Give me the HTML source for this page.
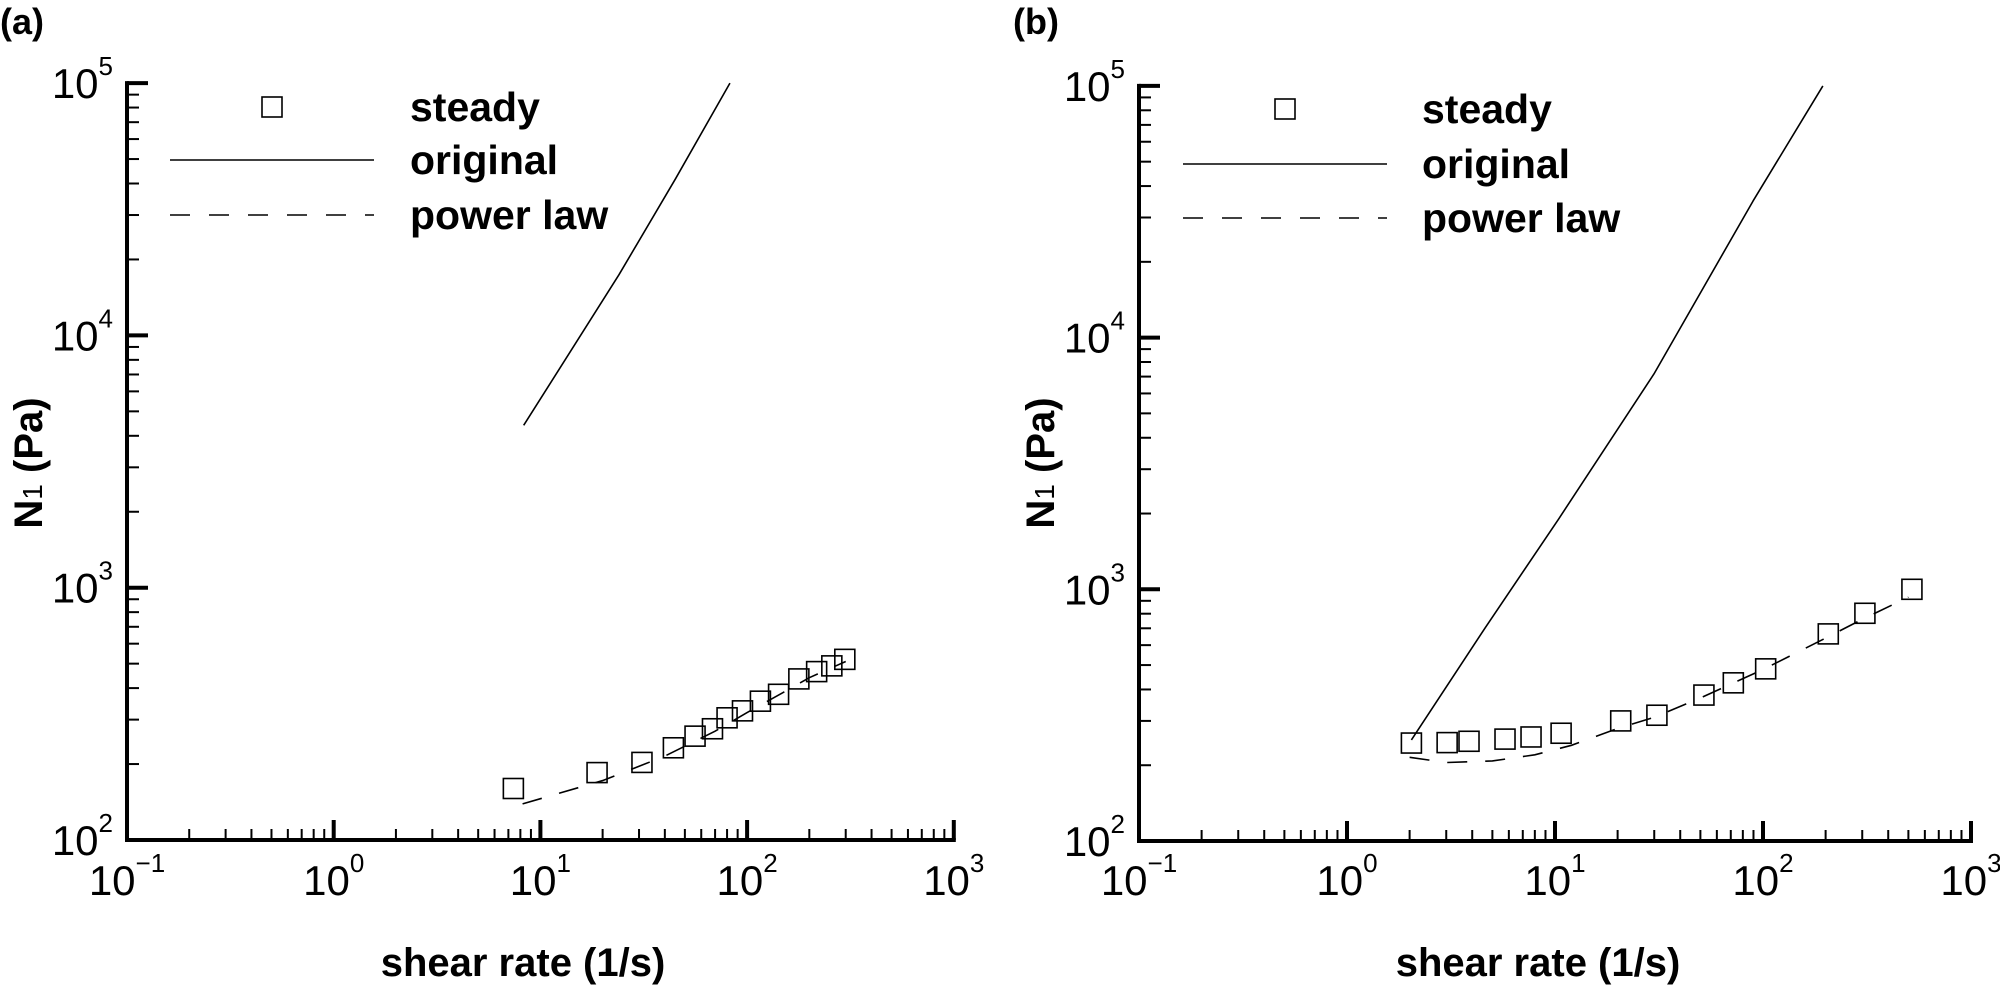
<!DOCTYPE html>
<html><head><meta charset="utf-8">
<style>
html,body{margin:0;padding:0;background:#fff;}
svg{display:block;font-family:"Liberation Sans",Arial,sans-serif;}
</style></head>
<body>
<svg id="fig" width="2000" height="998" viewBox="0 0 2000 998" xmlns="http://www.w3.org/2000/svg"></svg>
<script>
// ---- Panel (a) data ----
const aSteadyX = [7.4, 18.8, 31, 44, 56, 68, 80, 95, 116, 142, 178, 217, 257, 297];
const aSteadyY = [160, 185, 203, 232, 258, 276, 305, 325, 355, 378, 435, 465, 490, 520];
const aOrigX = [8.3, 24, 45, 82.6];
const aOrigY = [4400, 17400, 41700, 100000];
const aPowX = [8.2, 20, 40, 70, 100, 150, 200, 300];
const aPowY = [139, 172, 215, 270, 320, 385, 440, 510];
// ---- Panel (b) data ----
const bSteadyX = [2.04, 3.03, 3.86, 5.75, 7.67, 10.7, 20.7, 30.9, 52, 72, 103, 206, 309, 520];
const bSteadyY = [245, 246, 249, 254, 259, 268, 300, 316, 380, 425, 483, 665, 803, 1000];
const bOrigX = [2.04, 4.6, 10.4, 29.9, 89.6, 194];
const bOrigY = [252, 700, 1900, 7170, 34900, 100000];
const bPowX = [2, 3, 5, 8, 12, 20, 30, 50, 70, 100, 200, 300, 500];
const bPowY = [215, 205, 208, 220, 240, 280, 310, 370, 420, 480, 640, 760, 930];
// ---- tick labels ----
const xTickExp = ["-1", "0", "1", "2", "3"];
const yTickExp = ["2", "3", "4", "5"];

const NS = "http://www.w3.org/2000/svg";
const svg = document.getElementById("fig");
function mk(tag, attrs, parent) {
  const e = document.createElementNS(NS, tag);
  for (const k in attrs) e.setAttribute(k, attrs[k]);
  (parent || svg).appendChild(e);
  return e;
}

function panel(cfg) {
  const g = mk("g", {});
  
  
  const X = v => cfg.x0 + (Math.log10(v) + 1) * cfg.dx;
  const Y = v => cfg.y0 - (Math.log10(v) - 2) * cfg.dy;
  const xEnd = X(1000), yTop = Y(100000);

  for (let d = -1; d < 3; d++) for (let m = 2; m <= 9; m++) {
    const px = X(m * Math.pow(10, d));
    const t = mk("line", {x1: px, x2: px, y1: cfg.y0, y2: cfg.y0 - 11, stroke: "#000", "stroke-width": 2}, g);
    
    
  }
  for (let d = 2; d < 5; d++) for (let m = 2; m <= 9; m++) {
    const py = Y(m * Math.pow(10, d));
    const t = mk("line", {x1: cfg.x0, x2: cfg.x0 + 12, y1: py, y2: py, stroke: "#000", "stroke-width": 2}, g);
    
    
  }
  xTickExp.forEach(ex => {
    const px = X(Math.pow(10, +ex));
    const t = mk("line", {x1: px, x2: px, y1: cfg.y0, y2: cfg.y0 - 20, stroke: "#000", "stroke-width": 4}, g);
    
    
    const tx = mk("text", {x: px, y: 895, "text-anchor": "middle", "font-size": 42}, g);
    
    
    tx.innerHTML = '10<tspan dy="-23" font-size="26">' + ex.replace("-", "\u2212") + '</tspan>';
  });
  yTickExp.forEach(ex => {
    const py = Y(Math.pow(10, +ex));
    const t = mk("line", {x1: cfg.x0, x2: cfg.x0 + 21, y1: py, y2: py, stroke: "#000", "stroke-width": 4}, g);
    
    
    const tx = mk("text", {x: cfg.x0 - 14, y: py + 15, "text-anchor": "end", "font-size": 42}, g);
    
    
    tx.innerHTML = '10<tspan dy="-23" font-size="26">' + ex + '</tspan>';
  });
  const ax = mk("path", {d: `M${cfg.x0},${yTop - 2} L${cfg.x0},${cfg.y0} L${xEnd + 2},${cfg.y0}`, fill: "none", stroke: "#000", "stroke-width": 4}, g);
  
  

  const orig = mk("polyline", {points: cfg.oX.map((v, i) => X(v) + "," + Y(cfg.oY[i])).join(" "), fill: "none", stroke: "#000", "stroke-width": 1.6, "stroke-linejoin": "round"}, g);
  
  
  const pw = mk("polyline", {points: cfg.pX.map((v, i) => X(v) + "," + Y(cfg.pY[i])).join(" "), fill: "none", stroke: "#000", "stroke-width": 1.6, "stroke-dasharray": "20 18"}, g);
  
  
  cfg.sX.forEach((v, i) => {
    const r = mk("rect", {x: X(v) - 10, y: Y(cfg.sY[i]) - 10, width: 20, height: 20, fill: "none", stroke: "#000", "stroke-width": 1.6}, g);
    
    
  });

  const L = cfg.leg;
  const lg = mk("g", {}, g);
  
  
  const ls = mk("rect", {x: L.sq - 10, y: L.y1 - 10, width: 20, height: 20, fill: "none", stroke: "#000", "stroke-width": 1.6}, lg);
  
  
  const l1 = mk("line", {x1: L.l0, x2: L.l1, y1: L.y2, y2: L.y2, stroke: "#000", "stroke-width": 1.6}, lg);
  
  
  const l2 = mk("line", {x1: L.l0, x2: L.l1, y1: L.y3, y2: L.y3, stroke: "#000", "stroke-width": 1.6, "stroke-dasharray": "20 19"}, lg);
  
  
  [["steady", L.y1], ["original", L.y2], ["power law", L.y3]].forEach(([s, yy]) => {
    const t = mk("text", {x: L.tx, y: yy + 14, "font-size": 41, "font-weight": "bold"}, lg);
    
    
    t.textContent = s;
  });

  const xt = mk("text", {x: cfg.xtX, y: 976, "text-anchor": "middle", "font-size": 40, "font-weight": "bold"}, g);
  
  
  xt.textContent = "shear rate (1/s)";
  const yt = mk("text", {x: 0, y: 0, "text-anchor": "middle", "font-size": 40, "font-weight": "bold", transform: `translate(${cfg.ytX},463) rotate(-90)`}, g);
  
  
  yt.innerHTML = 'N<tspan font-size="28" font-weight="normal" dy="0">1</tspan> (Pa)';
  const pl = mk("text", {x: cfg.plX, y: 34, "font-size": 36, "font-weight": "bold"}, g);
  
  
  pl.textContent = cfg.label;
}

panel({name: "panel-a", label: "(a)", x0: 127, y0: 840, dx: 206.7, dy: 252.3,
  sX: aSteadyX, sY: aSteadyY, oX: aOrigX, oY: aOrigY, pX: aPowX, pY: aPowY,
  leg: {sq: 272, l0: 170, l1: 374, tx: 410, y1: 107, y2: 160, y3: 215},
  xtX: 523, ytX: 42, plX: 0});
panel({name: "panel-b", label: "(b)", x0: 1139, y0: 841, dx: 208, dy: 251.7,
  sX: bSteadyX, sY: bSteadyY, oX: bOrigX, oY: bOrigY, pX: bPowX, pY: bPowY,
  leg: {sq: 1285, l0: 1183, l1: 1387, tx: 1422, y1: 109, y2: 164, y3: 218},
  xtX: 1538, ytX: 1054, plX: 1013});
</script>
</body></html>
